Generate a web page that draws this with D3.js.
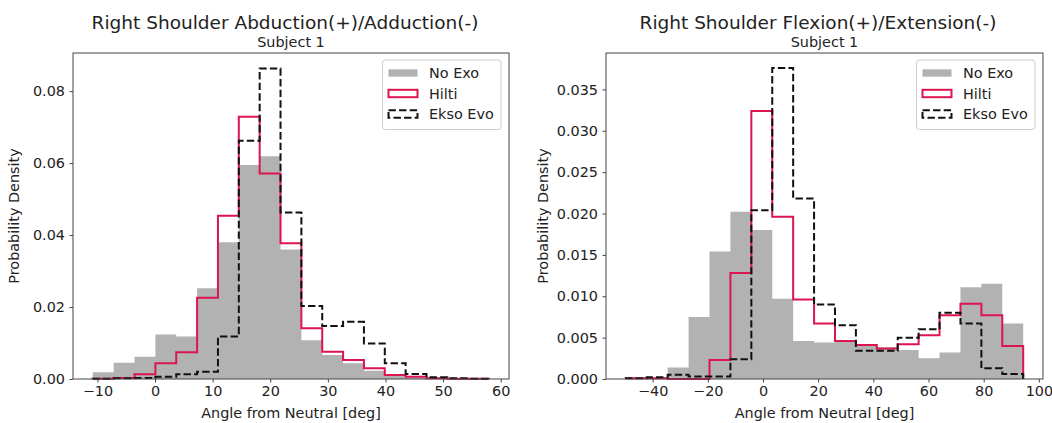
<!DOCTYPE html>
<html>
<head>
<meta charset="utf-8">
<script src="https://cdn.jsdelivr.net/npm/d3@7"></script>
<style>
  body { margin: 0; background: #fff; }
  svg { font-family: "DejaVu Sans", sans-serif; }
</style>
</head>
<body>
<svg id="fig" width="1052" height="423"></svg>
<script>
// left panel: abduction / adduction
var abdEdges = [-10.80, -7.18, -3.56, 0.06, 3.68, 7.30, 10.92, 14.54, 18.16, 21.78,
                25.40, 29.02, 32.64, 36.26, 39.88, 43.50, 47.12, 50.74, 54.36, 57.98];
var abdNoExo = [0.0019, 0.0045, 0.0062, 0.0124, 0.0118, 0.0252, 0.0380, 0.0595, 0.0619, 0.0360,
                0.0108, 0.0067, 0.0044, 0.0023, 0.0010, 0.0004, 0.0002, 0.0001, 0.0001];
var abdHilti = [0.0001, 0.0003, 0.0013, 0.0044, 0.0074, 0.0226, 0.0454, 0.0729, 0.0571, 0.0377,
                0.0141, 0.0076, 0.0053, 0.0030, 0.0011, 0.0006, 0.0002, 0.0001, 0.0001];
var abdEkso  = [0.0001, 0.0002, 0.0003, 0.0006, 0.0013, 0.0020, 0.0118, 0.0662, 0.0863, 0.0463,
                0.0203, 0.0147, 0.0159, 0.0099, 0.0044, 0.0014, 0.0005, 0.0002, 0.0001];
var abdXTicks = [-10, 0, 10, 20, 30, 40, 50, 60];
var abdYTicks = [0, 0.02, 0.04, 0.06, 0.08];

// right panel: flexion / extension
var flxEdges = [-49.70, -42.12, -34.54, -26.96, -19.38, -11.80, -4.22, 3.36, 10.94, 18.52,
                26.10, 33.68, 41.26, 48.84, 56.42, 64.00, 71.58, 79.16, 86.74, 94.32];
var flxNoExo = [0.0000, 0.0001, 0.0014, 0.0075, 0.0154, 0.0202, 0.0180, 0.0097, 0.0046, 0.0044,
                0.0047, 0.0040, 0.0038, 0.0035, 0.0025, 0.0032, 0.0111, 0.0115, 0.0067];
var flxHilti = [0.0001, 0.0001, 0.0000, 0.0000, 0.0023, 0.0128, 0.0324, 0.0196, 0.0096, 0.0067,
                0.0046, 0.0041, 0.0037, 0.0042, 0.0053, 0.0077, 0.0091, 0.0077, 0.0040];
var flxEkso  = [0.0001, 0.0002, 0.0005, 0.0003, 0.0003, 0.0024, 0.0204, 0.0376, 0.0218, 0.0090,
                0.0065, 0.0034, 0.0034, 0.0050, 0.0060, 0.0080, 0.0067, 0.0013, 0.0006];
var flxXTicks = [-40, -20, 0, 20, 40, 60, 80, 100];
var flxYTicks = [0, 0.005, 0.010, 0.015, 0.020, 0.025, 0.030, 0.035];

var seriesNames = ["No Exo", "Hilti", "Ekso Evo"];

var GREY = "#b2b2b2", RED = "#dc1450", SPINE = "#444", TEXT = "#222";
var FS = 14.4;

var svg = d3.select("#fig");

function histPanel(config) {
    var left = config.left, top = 53, w = config.width, h = 326;
    var g = svg.append("g").attr("transform", "translate(" + left + "," + top + ")");

    var x = d3.scaleLinear().domain(config.xDomain).range([0, w]);
    var y = d3.scaleLinear().domain(config.yDomain).range([h, 0]);

    // histogram as step points
    function steps(vals) {
        var pts = [[config.edges[0], 0]];
        vals.forEach(function(v, i) { pts.push([config.edges[i], v]); });
        pts.push([config.edges[vals.length], vals[vals.length - 1]]);
        pts.push([config.edges[vals.length], 0]);
        return pts;
    }
    var line = d3.line().x(d => x(d[0])).y(d => y(d[1])).curve(d3.curveStepAfter);
    var area = d3.area().x(d => x(d[0])).y0(h).y1(d => y(d[1])).curve(d3.curveStepAfter);

    g.append("path").attr("d", area(steps(config.noExo))).attr("fill", GREY);
    g.append("path").attr("d", line(steps(config.hilti)))
        .attr("fill", "none").attr("stroke", RED).attr("stroke-width", 2);
    g.append("path").attr("d", line(steps(config.ekso)))
        .attr("fill", "none").attr("stroke", "#111").attr("stroke-width", 2)
        .attr("stroke-dasharray", "7.4,3.2");

    // axes
    var xAxis = g.append("g").attr("transform", "translate(0," + h + ")")
        .call(d3.axisBottom(x).tickValues(config.xTicks).tickSize(3.5).tickPadding(3.5)
            .tickFormat(d => d < 0 ? "\u2212" + Math.abs(d) : d));
    var yAxis = g.append("g")
        .call(d3.axisLeft(y).tickValues(config.yTicks).tickSize(3.5).tickPadding(4.5)
            .tickFormat(d3.format(config.yFormat)));
    [xAxis, yAxis].forEach(function(a) {
        a.select(".domain").remove();
        a.selectAll("line").attr("stroke", SPINE);
        a.selectAll("text").attr("fill", TEXT).attr("font-size", FS)
            .attr("font-family", "DejaVu Sans");
    });
    g.append("rect").attr("width", w).attr("height", h)
        .attr("fill", "none").attr("stroke", SPINE).attr("stroke-width", 1);

    // labels
    g.append("text").attr("x", w / 2).attr("y", h + 39).attr("text-anchor", "middle")
        .attr("font-size", FS).attr("fill", TEXT).text("Angle from Neutral [deg]");
    g.append("text").attr("transform", "translate(" + config.yLabelX + "," + (h / 2) + ") rotate(-90)")
        .attr("text-anchor", "middle").attr("font-size", FS).attr("fill", TEXT)
        .text("Probability Density");
    svg.append("text").attr("x", config.titleX).attr("y", 29).attr("text-anchor", "middle")
        .attr("font-size", 18.5).attr("fill", TEXT).text(config.title);
    svg.append("text").attr("x", left + w / 2).attr("y", 46.5).attr("text-anchor", "middle")
        .attr("font-size", FS).attr("fill", TEXT).text("Subject 1");

    // legend
    var lg = g.append("g").attr("transform", "translate(" + (w - 126.5) + ",7)");
    lg.append("rect").attr("width", 118.5).attr("height", 69.5).attr("rx", 3)
        .attr("fill", "#fff").attr("fill-opacity", 0.8).attr("stroke", "#ccc");
    seriesNames.forEach(function(name, i) {
        var yy = 13 + i * 20.5;
        var sw = lg.append("rect").attr("x", 6).attr("y", yy - 3.7).attr("width", 29).attr("height", 7.4);
        if (i === 0) sw.attr("fill", GREY);
        else if (i === 1) sw.attr("fill", "none").attr("stroke", RED).attr("stroke-width", 2);
        else sw.attr("fill", "none").attr("stroke", "#111").attr("stroke-width", 2)
            .attr("stroke-dasharray", "7.4,3.2");
        lg.append("text").attr("x", 46.5).attr("y", yy + 5.3).attr("font-size", FS)
            .attr("fill", TEXT).text(name);
    });
}

histPanel({
    left: 73, width: 436,
    xDomain: [-14.24, 61.44], yDomain: [0, 0.0906],
    edges: abdEdges, noExo: abdNoExo, hilti: abdHilti, ekso: abdEkso,
    xTicks: abdXTicks, yTicks: abdYTicks, yFormat: ".2f",
    yLabelX: -54.5, titleX: 285,
    title: "Right Shoulder Abduction(+)/Adduction(-)"
});

histPanel({
    left: 606, width: 437,
    xDomain: [-56.9, 101.5], yDomain: [0, 0.0394],
    edges: flxEdges, noExo: flxNoExo, hilti: flxHilti, ekso: flxEkso,
    xTicks: flxXTicks, yTicks: flxYTicks, yFormat: ".3f",
    yLabelX: -58, titleX: 818,
    title: "Right Shoulder Flexion(+)/Extension(-)"
});
</script>
</body>
</html>
